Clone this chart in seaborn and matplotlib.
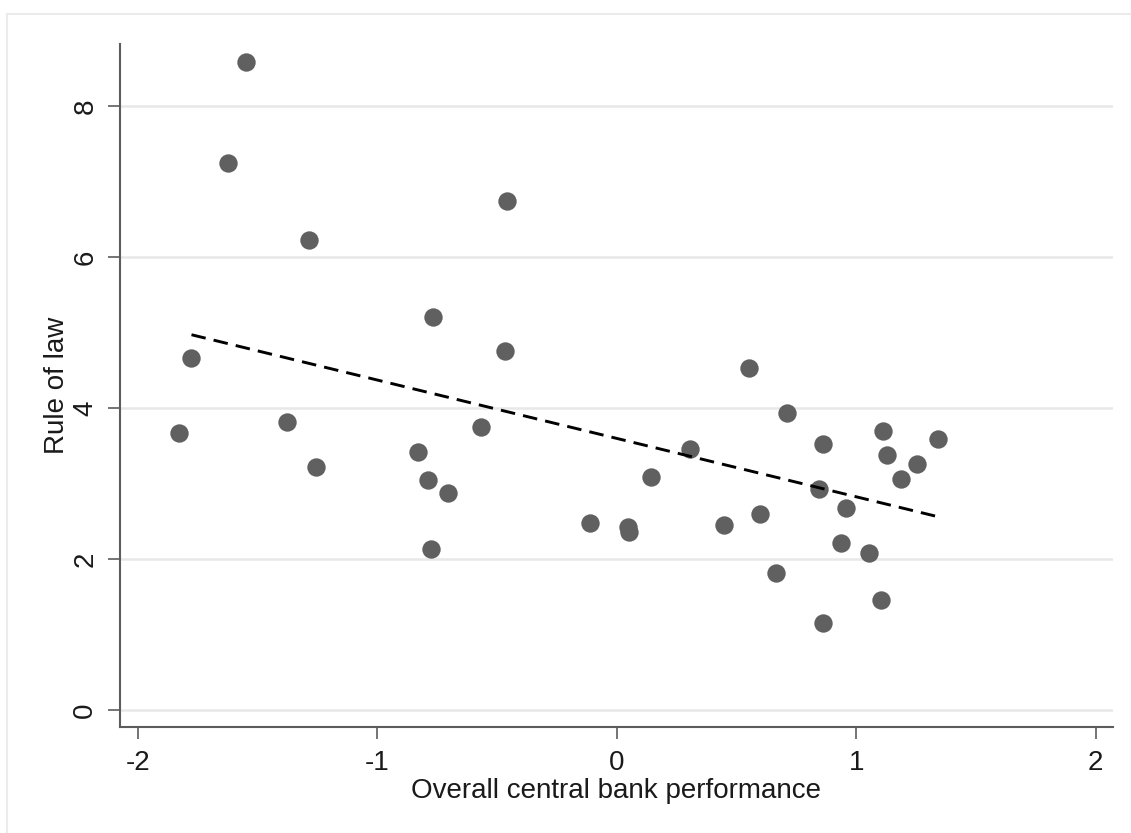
import numpy as np
import pandas as pd
import seaborn as sns
import matplotlib.pyplot as plt
from matplotlib.lines import Line2D

# Scatter data
performance = [
    -1.549, -1.624, -1.286, -1.778, -1.830, -1.378, -1.257, -0.459,
    -0.768, -0.465, -0.830, -0.788, -0.703, -0.774, -0.565, -0.113,
    0.046, 0.051, 0.145, 0.306, 0.447, 0.554, 0.598, 0.663,
    0.713, 0.860, 0.845, 0.956, 0.936, 1.054, 1.102, 0.860,
    1.110, 1.127, 1.254, 1.189, 1.340,
]
rule_of_law = [
    8.58, 7.24, 6.23, 4.66, 3.67, 3.81, 3.22, 6.74,
    5.20, 4.76, 3.42, 3.04, 2.87, 2.13, 3.75, 2.48,
    2.42, 2.36, 3.09, 3.45, 2.45, 4.53, 2.60, 1.81,
    3.93, 3.52, 2.92, 2.68, 2.21, 2.08, 1.46, 1.15,
    3.69, 3.38, 3.26, 3.06, 3.59,
]

# Fitted line end points
fit_x = [-1.776, 1.340]
fit_y = [4.97, 2.56]

x_ticks = [-2, -1, 0, 1, 2]
y_ticks = [0, 2, 4, 6, 8]

df = pd.DataFrame({"performance": performance, "rule_of_law": rule_of_law})
fit_df = pd.DataFrame({"x": fit_x, "y": fit_y})

sns.set_theme(style="white")
plt.rcParams["font.family"] = ["Liberation Sans", "DejaVu Sans"]

text_color = "#1a1a1a"
axis_color = "#5c5c5c"

fig = plt.figure(figsize=(11.31, 8.33), dpi=100)
ax = fig.add_axes([0.106, 0.127, 0.878, 0.820])

# Grid lines
for yv in y_ticks:
    ax.axhline(yv, color="#e8e8e8", lw=1.8, zorder=0)

sns.scatterplot(
    data=df,
    x="performance",
    y="rule_of_law",
    s=175,
    color="#606060",
    linewidth=0,
    ax=ax,
    zorder=3
)

sns.lineplot(
    data=fit_df,
    x="x",
    y="y",
    color="black",
    lw=2.1,
    dashes=False,
    ax=ax,
    zorder=4
)
ax.lines[-1].set_dashes((5.0, 2.8))

ax.set_xlim(-2.075, 2.072)
ax.set_ylim(-0.23, 8.82)
ax.set_xticks(x_ticks)
ax.set_yticks(y_ticks)
ax.set_xticklabels([str(v) for v in x_ticks])
ax.set_yticklabels([str(v) for v in y_ticks], rotation=90, va="center")

ax.tick_params(
    axis="both", direction="out", length=8.5, width=1.2,
    color=axis_color, labelsize=20, labelcolor=text_color, pad=8,
    bottom=True, left=True
)
ax.tick_params(axis="y", pad=7)

for side in ["top", "right"]:
    ax.spines[side].set_visible(False)
for side in ["left", "bottom"]:
    ax.spines[side].set_color(axis_color)
    ax.spines[side].set_linewidth(1.5)

ax.set_xlabel("Overall central bank performance", fontsize=20,
              color=text_color, labelpad=1)
ax.set_ylabel("Rule of law", fontsize=20, color=text_color, labelpad=2)

# Light outer frame
fig.add_artist(Line2D([7 / 1131, 1], [1 - 14 / 833, 1 - 14 / 833],
                      transform=fig.transFigure, color="#ebebeb", lw=1.5))
fig.add_artist(Line2D([7 / 1131, 7 / 1131], [0, 1 - 14 / 833],
                      transform=fig.transFigure, color="#ebebeb", lw=1.5))

fig.savefig("out.png", dpi=100)
